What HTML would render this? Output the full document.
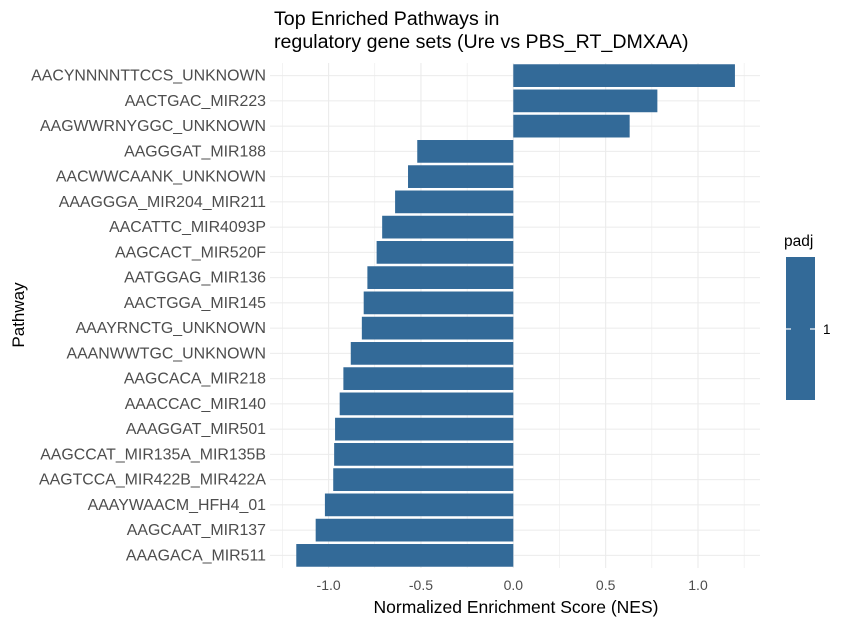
<!DOCTYPE html>
<html><head><meta charset="utf-8"><style>
body{margin:0;background:#fff;font-family:"Liberation Sans",sans-serif;}
svg text{font-family:"Liberation Sans",sans-serif;}
</style></head><body>
<svg width="850" height="626">
<g id="grid"></g>
<g id="bars"></g>
<g id="ylabels"></g>
<g id="xlabels"></g>
<text x="274" y="25" font-size="19.6" fill="#000">Top Enriched Pathways in</text>
<text x="274" y="48" font-size="19.6" fill="#000">regulatory gene sets (Ure vs PBS_RT_DMXAA)</text>
<text x="516" y="613" font-size="17.5" text-anchor="middle" fill="#000">Normalized Enrichment Score (NES)</text>
<text x="24" y="315" font-size="17" text-anchor="middle" fill="#000" transform="rotate(-90 24 315)">Pathway</text>
<text x="784" y="246" font-size="15.5" fill="#000">padj</text>
<rect x="786" y="257" width="29" height="143" fill="#336a98"/>
<line x1="786" y1="329" x2="791" y2="329" stroke="#fff" stroke-width="1.2"/>
<line x1="810" y1="329" x2="815" y2="329" stroke="#fff" stroke-width="1.2"/>
<text x="823" y="334" font-size="13.5" fill="#000">1</text>
</svg>
<script>
const pathways=["AACYNNNNTTCCS_UNKNOWN","AACTGAC_MIR223","AAGWWRNYGGC_UNKNOWN","AAGGGAT_MIR188","AACWWCAANK_UNKNOWN","AAAGGGA_MIR204_MIR211","AACATTC_MIR4093P","AAGCACT_MIR520F","AATGGAG_MIR136","AACTGGA_MIR145","AAAYRNCTG_UNKNOWN","AAANWWTGC_UNKNOWN","AAGCACA_MIR218","AAACCAC_MIR140","AAAGGAT_MIR501","AAGCCAT_MIR135A_MIR135B","AAGTCCA_MIR422B_MIR422A","AAAYWAACM_HFH4_01","AAGCAAT_MIR137","AAAGACA_MIR511"];
const nes=[1.2,0.78,0.63,-0.52,-0.57,-0.64,-0.71,-0.74,-0.79,-0.81,-0.82,-0.88,-0.92,-0.94,-0.965,-0.97,-0.975,-1.02,-1.07,-1.175];
const xTicks=[-1.0,-0.5,0.0,0.5,1.0];
const xTickLabels=["-1.0","-0.5","0.0","0.5","1.0"];
const NS="http://www.w3.org/2000/svg";
const L=270,R=760,T=63,B=568;
const x=v=>513.3+v*184.7;
const step=(B-T)/pathways.length;
const y=i=>T+step*(i+0.5);
function mk(tag,attrs,parent){const e=document.createElementNS(NS,tag);for(const k in attrs)e.setAttribute(k,attrs[k]);document.getElementById(parent).appendChild(e);return e;}
for(let v=-1.25;v<=1.26;v+=0.25){
 const major=Math.abs(v*2-Math.round(v*2))<1e-6;
 const g=mk('line',{x1:x(v),x2:x(v),y1:T,y2:B,stroke:'#ebebeb','stroke-width':major?1.1:0.6},'grid');
 
 
}
pathways.forEach((p,i)=>{
 const g=mk('line',{x1:L,x2:R,y1:y(i),y2:y(i),stroke:'#ebebeb','stroke-width':1.1},'grid');
 
 
 const v=nes[i];
 const bh=step*0.9;
 const b=mk('rect',{x:Math.min(x(0),x(v)),y:y(i)-bh/2,width:Math.abs(x(v)-x(0)),height:bh,fill:'#336a98'},'bars');
 
 
 const t=mk('text',{x:266,y:y(i)+5,'text-anchor':'end','font-size':15.9,fill:'#4d4d4d'},'ylabels');
 t.textContent=p;
 
 
});
xTicks.forEach((v,i)=>{
 const t=mk('text',{x:x(v),y:590,'text-anchor':'middle','font-size':14,fill:'#4d4d4d'},'xlabels');
 t.textContent=xTickLabels[i];
 
 
});
</script>
</body></html>
